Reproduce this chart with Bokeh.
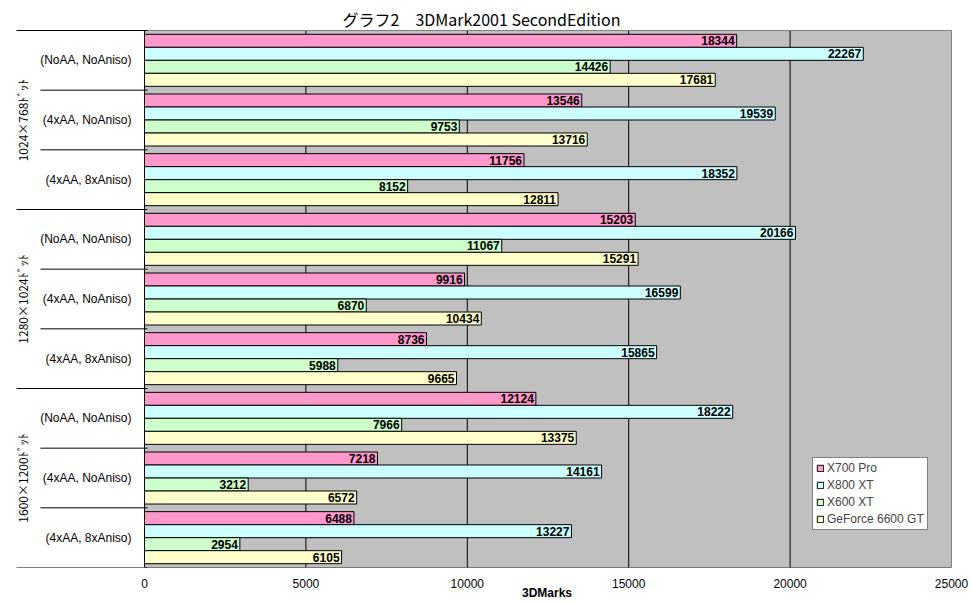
from bokeh.plotting import figure
from bokeh.models import (ColumnDataSource, Range1d, FixedTicker, Legend, LegendItem, Label, Title)
from bokeh.core.properties import value
from bokeh.embed import file_html
from bokeh.resources import INLINE

# ---- data ----
settings = ["(NoAA, NoAniso)", "(4xAA, NoAniso)", "(4xAA, 8xAniso)"] * 3
resolutions = ["1024×768ﾄﾞｯﾄ", "1280×1024ﾄﾞｯﾄ", "1600×1200ﾄﾞｯﾄ"]
series_names = ["X700 Pro", "X800 XT", "X600 XT", "GeForce 6600 GT"]
x700_pro = [18344, 13546, 11756, 15203, 9916, 8736, 12124, 7218, 6488]
x800_xt = [22267, 19539, 18352, 20166, 16599, 15865, 18222, 14161, 13227]
x600_xt = [14426, 9753, 8152, 11067, 6870, 5988, 7966, 3212, 2954]
gf6600_gt = [17681, 13716, 12811, 15291, 10434, 9665, 13375, 6572, 6105]
x_ticks = [0, 5000, 10000, 15000, 20000, 25000]
title_text = "グラフ2　3DMark2001 SecondEdition"
x_title = "3DMarks"

series_values = [x700_pro, x800_xt, x600_xt, gf6600_gt]
colors = ["#FF99CC", "#CCFFFF", "#CCFFCC", "#FFFFCC"]

# ---- layout geometry (pixels) ----
W, H = 972, 604
plot_left_px, plot_right_px = 144, 951
plot_top_px, plot_bottom_px = 30, 567
xmax = x_ticks[-1]
ppu = (plot_right_px - plot_left_px) / xmax          # px per data unit (x)
n_groups = len(settings)
ppg = (plot_bottom_px - plot_top_px) / n_groups      # px per group (y)

x_start = -plot_left_px / ppu
x_end = xmax + (W - plot_right_px) / ppu
y_top = -plot_top_px / ppg

p = figure(width=W, height=H, output_backend="svg", toolbar_location=None,
           x_range=Range1d(x_start, x_end), y_range=Range1d(n_groups, y_top),
           y_axis_location=None, min_border_left=0, min_border_right=0,
           min_border_top=0, min_border_bottom=H - plot_bottom_px)
p.outline_line_color = None
p.background_fill_color = "white"
p.border_fill_color = "white"
p.xgrid.visible = False
p.ygrid.visible = False

# x axis
ax = p.xaxis[0]
ax.ticker = FixedTicker(ticks=x_ticks)
ax.axis_line_color = None
ax.major_tick_line_color = None
ax.minor_tick_line_color = None
ax.major_tick_out = 0
ax.major_tick_in = 0
ax.minor_tick_out = 0
ax.minor_tick_in = 0
ax.major_label_standoff = 11
ax.major_label_text_font = "Liberation Sans"
ax.major_label_text_font_size = "12px"
ax.major_label_text_color = "black"

# x title below the axis, centred on the plot area (text ~50px wide)
xt = Title(text=x_title, align="left", offset=(plot_left_px + plot_right_px) / 2 - 26,
           standoff=-13, text_font="Liberation Sans", text_font_size="12px",
           text_font_style="bold", text_color="black")
p.add_layout(xt, "below")

# plot area background
p.quad(left=[0], right=[xmax], top=[0], bottom=[n_groups], fill_color="#C0C0C0", line_color=None)

# vertical gridlines
grid_x = x_ticks[1:-1]
p.segment(x0=grid_x, x1=grid_x, y0=[0] * len(grid_x), y1=[n_groups] * len(grid_x),
          line_color="black", line_width=1)

# bars
bar_h = 13 / ppg
offsets = [-1.5 * bar_h, -0.5 * bar_h, 0.5 * bar_h, 1.5 * bar_h]
legend_items = []
for name, vals, col, off in zip(series_names, series_values, colors, offsets):
    ys = [i + 0.5 + off for i in range(n_groups)]
    src = ColumnDataSource(dict(y=ys, v=vals, t=[str(v) for v in vals]))
    r = p.hbar(y="y", left=0, right="v", height=bar_h, source=src,
               fill_color=col, line_color="black", line_width=1)
    p.text(x="v", y="y", text="t", source=src, x_offset=-2, text_align="right",
           text_baseline="middle", text_font=value("Liberation Sans"),
           text_font_size="12px", text_font_style="bold", text_color="black")
    legend_items.append(LegendItem(label=name, renderers=[r]))

# plot area borders
p.segment(x0=[0, xmax], x1=[xmax, xmax], y0=[0, 0], y1=[0, n_groups],
          line_color="#808080", line_width=1)
p.segment(x0=[0, 0], x1=[xmax, 0], y0=[n_groups, 0], y1=[n_groups, n_groups],
          line_color="black", line_width=1)

# left category structure lines
bounds = list(range(n_groups + 1))
x_left = [(16 - plot_left_px) / ppu if b % 3 == 0 else (40 - plot_left_px) / ppu for b in bounds]
p.segment(x0=x_left, x1=[3 / ppu] * len(bounds), y0=bounds, y1=bounds,
          line_color="black", line_width=1)

# setting labels
p.text(x=[-13 / ppu] * n_groups, y=[i + 0.5 for i in range(n_groups)], text=settings,
       text_align="right", text_baseline="middle", text_font=value("Liberation Sans"),
       text_font_size="12px", text_color="black")

# resolution labels (rotated)
p.text(x=[(22 - plot_left_px) / ppu] * 3, y=[3 * j + 1.5 for j in range(3)], text=resolutions,
       angle=1.5708, text_align="center", text_baseline="middle",
       text_font=value("Noto Sans CJK JP"), text_font_size="12px", text_color="black")

# title
p.add_layout(Label(x=(481 - plot_left_px) / ppu, y=(18 - plot_top_px) / ppg, text=title_text,
                   text_align="center", text_baseline="middle",
                   text_font="Noto Sans CJK JP", text_font_size="16px", text_color="black"))

# legend
legend = Legend(items=legend_items, location=(812, 37), orientation="vertical",
                background_fill_color="white", background_fill_alpha=1,
                border_line_color="black", border_line_width=1,
                label_text_font="Liberation Sans", label_text_font_size="12px",
                glyph_width=8, glyph_height=8, label_standoff=3, label_height=13,
                spacing=3, padding=3, margin=0)
p.add_layout(legend)

open("out.html", "w").write(file_html(p, INLINE))
